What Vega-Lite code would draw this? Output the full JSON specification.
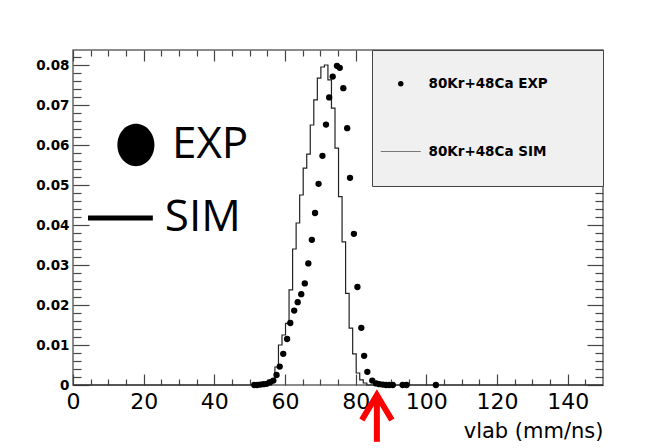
{
  "$schema": "https://vega.github.io/schema/vega-lite/v6.json",
  "width": 530,
  "height": 335,
  "autosize": {"type": "none"},
  "padding": {"left": 73, "top": 50, "right": 61, "bottom": 63},
  "background": "#ffffff",
  "view": {"stroke": "#666666", "strokeWidth": 1.5, "fill": "#ffffff"},
  "datasets": {
    "exp": [
      {"v": 51.3, "val": 0.0, "series": "80Kr+48Ca EXP"},
      {"v": 52.1, "val": 0.0, "series": "80Kr+48Ca EXP"},
      {"v": 53.0, "val": 0.0001, "series": "80Kr+48Ca EXP"},
      {"v": 53.9, "val": 0.0002, "series": "80Kr+48Ca EXP"},
      {"v": 54.8, "val": 0.0003, "series": "80Kr+48Ca EXP"},
      {"v": 55.8, "val": 0.0007, "series": "80Kr+48Ca EXP"},
      {"v": 56.7, "val": 0.0011, "series": "80Kr+48Ca EXP"},
      {"v": 57.6, "val": 0.0025, "series": "80Kr+48Ca EXP"},
      {"v": 58.5, "val": 0.0046, "series": "80Kr+48Ca EXP"},
      {"v": 59.5, "val": 0.0078, "series": "80Kr+48Ca EXP"},
      {"v": 60.6, "val": 0.0115, "series": "80Kr+48Ca EXP"},
      {"v": 61.5, "val": 0.0155, "series": "80Kr+48Ca EXP"},
      {"v": 62.6, "val": 0.0186, "series": "80Kr+48Ca EXP"},
      {"v": 63.6, "val": 0.0207, "series": "80Kr+48Ca EXP"},
      {"v": 64.6, "val": 0.0227, "series": "80Kr+48Ca EXP"},
      {"v": 65.6, "val": 0.0254, "series": "80Kr+48Ca EXP"},
      {"v": 66.6, "val": 0.0304, "series": "80Kr+48Ca EXP"},
      {"v": 67.6, "val": 0.0363, "series": "80Kr+48Ca EXP"},
      {"v": 68.5, "val": 0.043, "series": "80Kr+48Ca EXP"},
      {"v": 69.5, "val": 0.0503, "series": "80Kr+48Ca EXP"},
      {"v": 70.6, "val": 0.0573, "series": "80Kr+48Ca EXP"},
      {"v": 71.6, "val": 0.0651, "series": "80Kr+48Ca EXP"},
      {"v": 72.5, "val": 0.0719, "series": "80Kr+48Ca EXP"},
      {"v": 73.5, "val": 0.0771, "series": "80Kr+48Ca EXP"},
      {"v": 74.7, "val": 0.0798, "series": "80Kr+48Ca EXP"},
      {"v": 75.5, "val": 0.0793, "series": "80Kr+48Ca EXP"},
      {"v": 76.5, "val": 0.0742, "series": "80Kr+48Ca EXP"},
      {"v": 77.6, "val": 0.0642, "series": "80Kr+48Ca EXP"},
      {"v": 78.4, "val": 0.0518, "series": "80Kr+48Ca EXP"},
      {"v": 79.5, "val": 0.0378, "series": "80Kr+48Ca EXP"},
      {"v": 80.5, "val": 0.0245, "series": "80Kr+48Ca EXP"},
      {"v": 81.6, "val": 0.0143, "series": "80Kr+48Ca EXP"},
      {"v": 82.4, "val": 0.0073, "series": "80Kr+48Ca EXP"},
      {"v": 83.3, "val": 0.0033, "series": "80Kr+48Ca EXP"},
      {"v": 84.7, "val": 0.0011, "series": "80Kr+48Ca EXP"},
      {"v": 85.8, "val": 0.0004, "series": "80Kr+48Ca EXP"},
      {"v": 86.7, "val": 0.0002, "series": "80Kr+48Ca EXP"},
      {"v": 87.7, "val": 0.0001, "series": "80Kr+48Ca EXP"},
      {"v": 88.6, "val": 0.0, "series": "80Kr+48Ca EXP"},
      {"v": 89.5, "val": 0.0, "series": "80Kr+48Ca EXP"},
      {"v": 90.5, "val": 0.0, "series": "80Kr+48Ca EXP"},
      {"v": 93.3, "val": 0.0, "series": "80Kr+48Ca EXP"},
      {"v": 94.4, "val": 0.0, "series": "80Kr+48Ca EXP"},
      {"v": 102.7, "val": 0.0, "series": "80Kr+48Ca EXP"}
    ],
    "sim": [
      {"v": 0, "val": 0},
      {"v": 56.15, "val": 0.0008},
      {"v": 57.15, "val": 0.0045},
      {"v": 58.15, "val": 0.01},
      {"v": 59.15, "val": 0.0125},
      {"v": 60.15, "val": 0.0154},
      {"v": 61.15, "val": 0.0238},
      {"v": 62.15, "val": 0.034},
      {"v": 63.15, "val": 0.0405},
      {"v": 64.15, "val": 0.0475},
      {"v": 65.15, "val": 0.0542},
      {"v": 66.15, "val": 0.0577},
      {"v": 67.15, "val": 0.065},
      {"v": 68.15, "val": 0.0713},
      {"v": 69.15, "val": 0.0767},
      {"v": 70.15, "val": 0.0795},
      {"v": 71.15, "val": 0.08},
      {"v": 72.15, "val": 0.0763},
      {"v": 73.15, "val": 0.0692},
      {"v": 74.15, "val": 0.0592},
      {"v": 75.15, "val": 0.0471},
      {"v": 76.15, "val": 0.0358},
      {"v": 77.15, "val": 0.0229},
      {"v": 78.15, "val": 0.0142},
      {"v": 79.15, "val": 0.0078},
      {"v": 80.15, "val": 0.003},
      {"v": 81.15, "val": 0.0013},
      {"v": 82.15, "val": 0.0005},
      {"v": 83.15, "val": 0},
      {"v": 150, "val": 0}
    ],
    "note": [{}]
  },
  "resolve": {"scale": {"x": "independent", "y": "independent", "shape": "independent"}},
  "layer": [
    {
      "data": {"name": "sim"},
      "mark": {"type": "line", "interpolate": "step-after", "color": "#222222", "strokeWidth": 1.2},
      "encoding": {
        "x": {"field": "v", "type": "quantitative",
          "scale": {"domain": [0, 150], "nice": false, "zero": false},
          "axis": {"orient": "bottom", "values": [0, 20, 40, 60, 80, 100, 120, 140], "ticks": false, "domain": false, "grid": false,
            "labelFont": "DejaVu Sans", "labelFontSize": 22, "labelColor": "#000000", "labelPadding": 6, "labelFlush": false, "labelOverlap": false,
            "title": "vlab (mm/ns)", "titleFont": "DejaVu Sans", "titleFontSize": 21, "titleFontWeight": "normal", "titleColor": "#000000",
            "titleAnchor": "end", "titleAlign": "right", "titleBaseline": "alphabetic", "titleY": 52}},
        "y": {"field": "val", "type": "quantitative",
          "scale": {"domain": [0, 0.08375], "nice": false},
          "axis": {"orient": "left", "values": [0, 0.01, 0.02, 0.03, 0.04, 0.05, 0.06, 0.07, 0.08], "format": "~g", "ticks": false, "domain": false, "grid": false,
            "labelFont": "DejaVu Sans", "labelFontWeight": "bold", "labelFontSize": 13.5, "labelColor": "#000000", "labelPadding": 4, "labelFlush": false, "labelOverlap": false, "title": null}}
      }
    },
    {
      "data": {"name": "exp"},
      "mark": {"type": "point", "filled": true, "color": "#000000", "size": 40, "opacity": 1},
      "encoding": {
        "x": {"field": "v", "type": "quantitative",
          "scale": {"domain": [0, 150], "nice": false, "zero": false},
          "axis": {"orient": "bottom", "values": [0, 20, 40, 60, 80, 100, 120, 140], "labels": false, "domain": false, "grid": false, "tickSize": -11, "tickColor": "#444444", "tickWidth": 1.2, "title": null}},
        "y": {"field": "val", "type": "quantitative",
          "scale": {"domain": [0, 0.08375], "nice": false},
          "axis": {"orient": "left", "values": [0, 0.01, 0.02, 0.03, 0.04, 0.05, 0.06, 0.07, 0.08], "labels": false, "domain": false, "grid": false, "tickSize": -16, "tickColor": "#444444", "tickWidth": 1.2, "title": null}},
        "shape": {"field": "series", "type": "nominal",
          "scale": {"domain": ["80Kr+48Ca EXP", "80Kr+48Ca SIM"], "range": ["circle", "M-7.3,-0.12L7.3,-0.12L7.3,0.12L-7.3,0.12Z"]},
          "legend": {"orient": "none", "legendX": 299, "legendY": 0, "title": "\u00a0", "titleOrient": "right", "titlePadding": 28, "titleFontSize": 12, "direction": "vertical",
            "fillColor": "#f0f0f0", "strokeColor": "#444444", "padding": 27, "rowPadding": 53,
            "symbolSize": 30, "symbolFillColor": "#000000", "symbolStrokeColor": "#000000", "symbolStrokeWidth": 1, "symbolOffset": -5,
            "labelOffset": 21, "labelFont": "DejaVu Sans", "labelFontWeight": "bold", "labelFontSize": 13.5, "labelColor": "#000000", "labelLimit": 0,
            "encode": {"symbols": {"update": {"stroke": {"value": "#000000"}, "fill": {"value": "#000000"}, "strokeWidth": {"value": 1}, "opacity": {"value": 1}}}}}}
      }
    },
    {
      "data": {"name": "note"},
      "mark": {"type": "text", "text": "EXP", "font": "Open Sans", "fontSize": 44, "align": "left", "baseline": "middle", "color": "#000000"},
      "encoding": {
        "x": {"datum": 28, "type": "quantitative",
          "scale": {"domain": [0, 150], "nice": false, "zero": false},
          "axis": {"orient": "bottom", "values": [5, 10, 15, 25, 30, 35, 45, 50, 55, 65, 70, 75, 85, 90, 95, 105, 110, 115, 125, 130, 135, 145], "labels": false, "domain": false, "grid": false, "tickSize": -6, "tickColor": "#444444", "tickWidth": 1.2, "title": null}},
        "y": {"datum": 0.06, "type": "quantitative",
          "scale": {"domain": [0, 0.08375], "nice": false},
          "axis": {"orient": "left", "values": [0.002, 0.004, 0.006, 0.008, 0.012, 0.014, 0.016, 0.018, 0.022, 0.024, 0.026, 0.028, 0.032, 0.034, 0.036, 0.038, 0.042, 0.044, 0.046, 0.048, 0.052, 0.054, 0.056, 0.058, 0.062, 0.064, 0.066, 0.068, 0.072, 0.074, 0.076, 0.078, 0.082], "labels": false, "domain": false, "grid": false, "tickSize": -8, "tickColor": "#444444", "tickWidth": 1.2, "title": null}}
      }
    },
    {
      "data": {"name": "note"},
      "mark": {"type": "text", "text": "SIM", "font": "Open Sans", "fontSize": 44, "align": "left", "baseline": "middle", "color": "#000000"},
      "encoding": {
        "x": {"datum": 26, "type": "quantitative",
          "scale": {"domain": [0, 150], "nice": false, "zero": false},
          "axis": {"orient": "top", "values": [0, 20, 40, 60, 80, 100, 120, 140], "labels": false, "domain": false, "grid": false, "tickSize": -11, "tickColor": "#444444", "tickWidth": 1.2, "title": null}},
        "y": {"datum": 0.04175, "type": "quantitative",
          "scale": {"domain": [0, 0.08375], "nice": false},
          "axis": {"orient": "right", "values": [0, 0.01, 0.02, 0.03, 0.04, 0.05, 0.06, 0.07, 0.08], "labels": false, "domain": false, "grid": false, "tickSize": -16, "tickColor": "#444444", "tickWidth": 1.2, "title": null}}
      }
    },
    {
      "data": {"name": "note"},
      "mark": {"type": "point", "filled": true, "color": "#000000", "opacity": 1, "size": 1400, "shape": "M0,-1.13A0.99,1.13 0 1 1 0,1.13A0.99,1.13 0 1 1 0,-1.13Z"},
      "encoding": {
        "x": {"datum": 17.8, "type": "quantitative",
          "scale": {"domain": [0, 150], "nice": false, "zero": false},
          "axis": {"orient": "top", "values": [5, 10, 15, 25, 30, 35, 45, 50, 55, 65, 70, 75, 85, 90, 95, 105, 110, 115, 125, 130, 135, 145], "labels": false, "domain": false, "grid": false, "tickSize": -6, "tickColor": "#444444", "tickWidth": 1.2, "title": null}},
        "y": {"datum": 0.06, "type": "quantitative",
          "scale": {"domain": [0, 0.08375], "nice": false},
          "axis": {"orient": "right", "values": [0.002, 0.004, 0.006, 0.008, 0.012, 0.014, 0.016, 0.018, 0.022, 0.024, 0.026, 0.028, 0.032, 0.034, 0.036, 0.038, 0.042, 0.044, 0.046, 0.048, 0.052, 0.054, 0.056, 0.058, 0.062, 0.064, 0.066, 0.068, 0.072, 0.074, 0.076, 0.078, 0.082], "labels": false, "domain": false, "grid": false, "tickSize": -8, "tickColor": "#444444", "tickWidth": 1.2, "title": null}}
      }
    },
    {
      "data": {"name": "note"},
      "mark": {"type": "rule", "color": "#000000", "strokeWidth": 5},
      "encoding": {
        "x": {"datum": 4.25, "type": "quantitative", "scale": {"domain": [0, 150], "nice": false, "zero": false}, "axis": null},
        "x2": {"datum": 22.6},
        "y": {"datum": 0.04175, "type": "quantitative", "scale": {"domain": [0, 0.08375], "nice": false}, "axis": null}
      }
    },
    {
      "data": {"name": "note"},
      "mark": {"type": "rule", "color": "#ff0000", "strokeWidth": 6},
      "encoding": {
        "x": {"datum": 86, "type": "quantitative", "scale": {"domain": [0, 150], "nice": false, "zero": false}, "axis": null},
        "y": {"datum": -0.003, "type": "quantitative", "scale": {"domain": [0, 0.08375], "nice": false}, "axis": null},
        "y2": {"datum": -0.0142}
      }
    },
    {
      "data": {"name": "note"},
      "mark": {"type": "point", "filled": false, "color": "#ff0000", "opacity": 1, "strokeWidth": 6, "strokeJoin": "miter", "size": 900, "shape": "M-1,1.67L0,0L1,1.67"},
      "encoding": {
        "x": {"datum": 86, "type": "quantitative", "scale": {"domain": [0, 150], "nice": false, "zero": false}, "axis": null},
        "y": {"datum": -0.0025, "type": "quantitative", "scale": {"domain": [0, 0.08375], "nice": false}, "axis": null}
      }
    }
  ]
}
